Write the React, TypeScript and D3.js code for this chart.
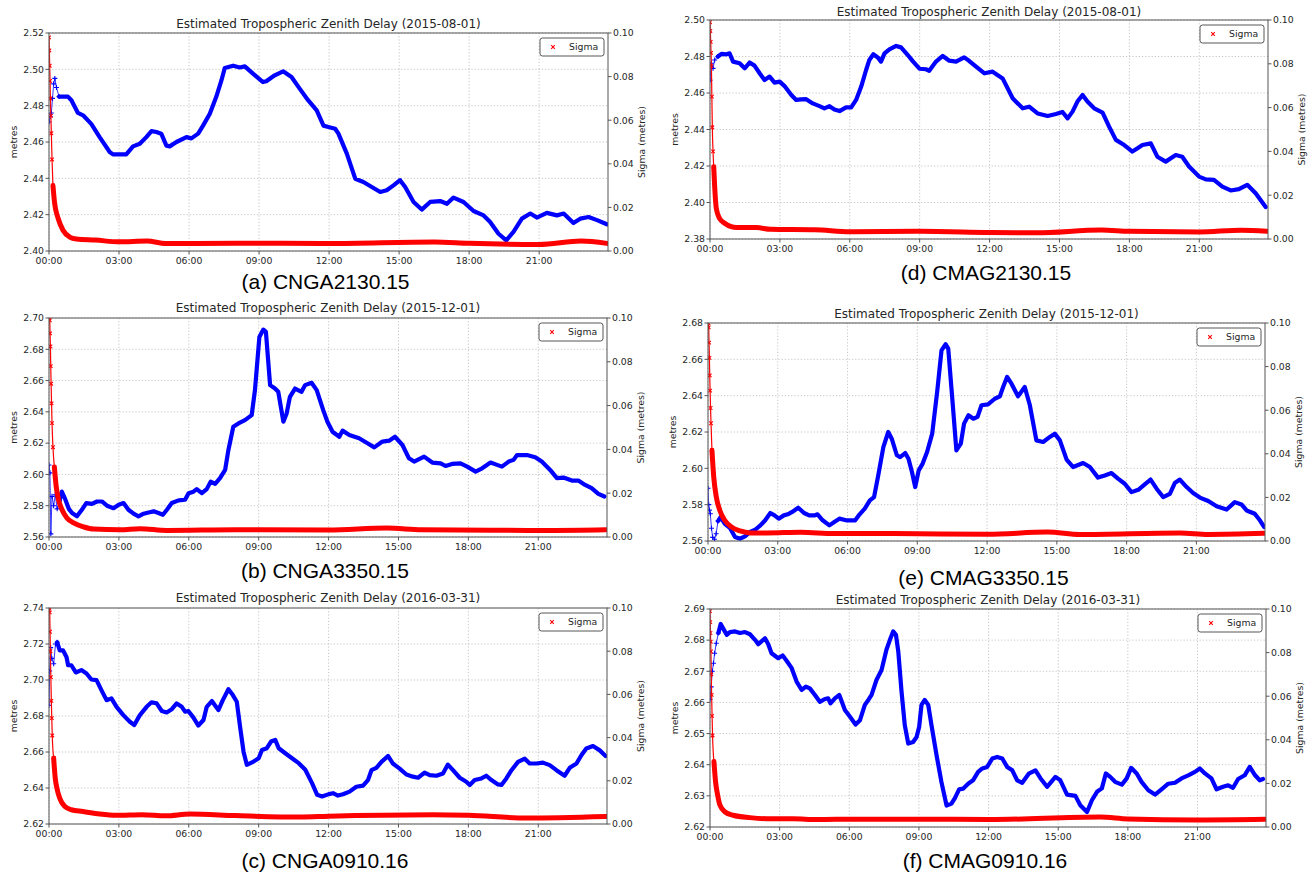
import React from 'react';
import * as d3 from 'd3';

type Pt = [number, number];

// shared axis ticks
const hourTicks = [0, 3, 6, 9, 12, 15, 18, 21];
const hourLabels = ['00:00', '03:00', '06:00', '09:00', '12:00', '15:00', '18:00', '21:00'];
const sigmaTicks = [0, 0.02, 0.04, 0.06, 0.08, 0.1];

// (a) CNGA2130.15
const cnga2130Ztd: Pt[] = [
  [0, 2.471], [0.05, 2.474], [0.1, 2.476], [0.15, 2.484], [0.2, 2.492], [0.25, 2.495], [0.32, 2.49], [0.43, 2.485],
  [0.81, 2.485], [0.96, 2.483], [1.24, 2.476], [1.46, 2.4747], [1.81, 2.47], [2.17, 2.4627], [2.6, 2.4545], [2.74, 2.4532],
  [3.31, 2.4532], [3.6, 2.4576], [3.89, 2.459], [4.17, 2.4627], [4.39, 2.466], [4.6, 2.4655], [4.81, 2.4646], [5.03, 2.458],
  [5.17, 2.4576], [5.46, 2.46], [5.89, 2.4627], [6.1, 2.462], [6.39, 2.4646], [6.6, 2.469], [6.89, 2.4756], [7.17, 2.485],
  [7.39, 2.494], [7.53, 2.5007], [7.89, 2.502], [8.17, 2.501], [8.39, 2.5016], [8.74, 2.4976], [9.17, 2.493], [9.31, 2.4934],
  [9.67, 2.4967], [10.03, 2.4989], [10.39, 2.4958], [10.74, 2.4894], [11.1, 2.483], [11.47, 2.4774], [11.76, 2.469],
  [11.97, 2.4683], [12.26, 2.4673], [12.4, 2.4646], [12.76, 2.4536], [13.12, 2.4398], [13.47, 2.438], [13.83, 2.4352],
  [14.19, 2.4325], [14.47, 2.4334], [14.76, 2.4361], [15.04, 2.439], [15.26, 2.4352], [15.62, 2.427], [15.97, 2.4228],
  [16.33, 2.427], [16.76, 2.4275], [17.05, 2.426], [17.33, 2.4294], [17.76, 2.427], [18.19, 2.422], [18.62, 2.4196],
  [18.9, 2.416], [19.26, 2.4095], [19.59, 2.4059], [19.9, 2.4105], [20.26, 2.4178], [20.62, 2.4206], [20.9, 2.4184],
  [21.33, 2.421], [21.76, 2.4196], [22.05, 2.4206], [22.47, 2.4154], [22.76, 2.4178], [23.12, 2.4187], [23.48, 2.417],
  [23.9, 2.4147],
];
const cnga2130Sigma: Pt[] = [
  [0, 0.098], [0.015, 0.092], [0.03, 0.085], [0.045, 0.078], [0.06, 0.07], [0.08, 0.062], [0.1, 0.054], [0.13, 0.042],
  [0.17, 0.03], [0.24, 0.022], [0.39, 0.015], [0.6, 0.0095],
  [0.89, 0.0064], [1.17, 0.0055], [2, 0.005], [3, 0.0042], [4.2, 0.0046], [5, 0.0034], [8, 0.0036], [12, 0.0034],
  [16.5, 0.0041], [18, 0.0035], [21, 0.003], [22.8, 0.0046], [23.9, 0.0035],
];

// (d) CMAG2130.15
const cmag2130Ztd: Pt[] = [
  [0, 2.467], [0.06, 2.4763], [0.13, 2.4735], [0.2, 2.4781], [0.34, 2.48], [0.49, 2.4814], [0.7, 2.4812], [0.84, 2.4817],
  [0.99, 2.4772], [1.27, 2.4763], [1.49, 2.4735], [1.7, 2.4767], [1.91, 2.475], [2.13, 2.4708], [2.34, 2.4671],
  [2.56, 2.469], [2.77, 2.4657], [2.99, 2.4662], [3.2, 2.4638], [3.49, 2.4589], [3.7, 2.4562], [3.91, 2.4565],
  [4.13, 2.4566], [4.41, 2.4543], [4.7, 2.4528], [4.91, 2.4516], [5.13, 2.4528], [5.34, 2.451], [5.56, 2.4501],
  [5.84, 2.4521], [6.06, 2.4521], [6.27, 2.4562], [6.49, 2.4635], [6.7, 2.4726], [6.84, 2.4781], [7.01, 2.4812],
  [7.2, 2.4795], [7.34, 2.4772], [7.49, 2.4817], [7.7, 2.4839], [7.99, 2.4858], [8.2, 2.485], [8.49, 2.4808],
  [8.7, 2.4775], [8.99, 2.4733], [9.27, 2.473], [9.41, 2.4722], [9.7, 2.4772], [9.99, 2.4803], [10.27, 2.4777],
  [10.56, 2.4772], [10.91, 2.4795], [11.13, 2.4775], [11.42, 2.4745], [11.78, 2.4708], [12.13, 2.4717], [12.56, 2.468],
  [12.99, 2.4571], [13.42, 2.4516], [13.7, 2.4525], [14.06, 2.4488], [14.49, 2.4474], [14.85, 2.4485], [15.13, 2.4496],
  [15.35, 2.4461], [15.56, 2.4498], [15.77, 2.4553], [15.99, 2.4589], [16.2, 2.4553], [16.49, 2.4516], [16.85, 2.4493],
  [17.13, 2.4416], [17.42, 2.4343], [17.78, 2.4315], [18.13, 2.4279], [18.35, 2.4297], [18.56, 2.4315], [18.92, 2.4324],
  [19.2, 2.4251], [19.56, 2.4224], [19.99, 2.426], [20.27, 2.4251], [20.56, 2.4197], [20.99, 2.4142], [21.28, 2.4127],
  [21.63, 2.4124], [21.99, 2.4087], [22.35, 2.4066], [22.7, 2.4073], [23.06, 2.4097], [23.42, 2.4051], [23.85, 2.3975],
];
const cmag2130Sigma: Pt[] = [
  [0, 0.099], [0.015, 0.095], [0.03, 0.09], [0.045, 0.085], [0.06, 0.079], [0.08, 0.065], [0.1, 0.051], [0.13, 0.04],
  [0.16, 0.033], [0.2, 0.024], [0.27, 0.014], [0.41, 0.0094],
  [0.63, 0.0072], [0.91, 0.0056], [1.13, 0.0052], [2, 0.0052], [2.6, 0.0044], [4.5, 0.0042], [6, 0.0033], [9, 0.0035],
  [12, 0.003], [14, 0.0028], [16.8, 0.0041], [18, 0.0035], [21, 0.0032], [22.8, 0.004], [23.9, 0.0035],
];

// (b) CNGA3350.15
const cnga3350Ztd: Pt[] = [
  [0, 2.606], [0.04, 2.601], [0.08, 2.562], [0.13, 2.586], [0.2, 2.58], [0.27, 2.587], [0.35, 2.578], [0.45, 2.583],
  [0.55, 2.589], [0.7, 2.584], [0.85, 2.578], [0.99, 2.5753], [1.2, 2.5732], [1.41, 2.5774], [1.6, 2.5817],
  [1.84, 2.5812], [2.06, 2.5827], [2.27, 2.5827], [2.49, 2.58], [2.77, 2.5784], [2.99, 2.5806], [3.2, 2.5817],
  [3.41, 2.5774], [3.63, 2.5749], [3.84, 2.5732], [4.06, 2.5749], [4.27, 2.5757], [4.49, 2.5764], [4.7, 2.5753],
  [4.89, 2.5742], [5.06, 2.5774], [5.27, 2.5817], [5.56, 2.5834], [5.84, 2.5838], [5.99, 2.588], [6.2, 2.589],
  [6.34, 2.5906], [6.56, 2.588], [6.77, 2.5906], [6.94, 2.5954], [7.13, 2.594], [7.34, 2.5976], [7.56, 2.6029],
  [7.7, 2.6156], [7.91, 2.6305], [8.13, 2.6326], [8.41, 2.6347], [8.7, 2.6379], [8.84, 2.6539], [9.03, 2.6879],
  [9.2, 2.6926], [9.31, 2.6911], [9.49, 2.6571], [9.7, 2.6549], [9.84, 2.6528], [10.06, 2.6337], [10.2, 2.639],
  [10.34, 2.6496], [10.56, 2.6549], [10.84, 2.6528], [10.99, 2.6571], [11.27, 2.6586], [11.49, 2.6539], [11.77, 2.6411],
  [11.95, 2.6337], [12.17, 2.6273], [12.46, 2.6241], [12.6, 2.628], [12.89, 2.6252], [13.31, 2.6231], [13.67, 2.6199],
  [13.96, 2.6173], [14.31, 2.621], [14.6, 2.6216], [14.85, 2.6241], [15.17, 2.6188], [15.45, 2.6103], [15.67, 2.6082],
  [16.1, 2.6114], [16.45, 2.6076], [16.81, 2.6071], [17.02, 2.6054], [17.3, 2.6067], [17.66, 2.6071], [17.95, 2.605],
  [18.31, 2.6018], [18.59, 2.6039], [18.95, 2.6076], [19.23, 2.6061], [19.44, 2.605], [19.73, 2.6082], [19.94, 2.6093],
  [20.09, 2.6124], [20.51, 2.6124], [20.87, 2.611], [21.15, 2.6082], [21.51, 2.6029], [21.8, 2.5976], [22.08, 2.598],
  [22.44, 2.5961], [22.72, 2.5961], [23.01, 2.5933], [23.29, 2.5912], [23.58, 2.5876], [23.84, 2.5859],
];
const cnga3350Sigma: Pt[] = [
  [0, 0.1], [0.015, 0.1], [0.03, 0.099], [0.045, 0.093], [0.06, 0.087], [0.075, 0.078], [0.09, 0.07], [0.11, 0.061],
  [0.13, 0.052], [0.17, 0.041], [0.23, 0.032], [0.31, 0.023],
  [0.41, 0.017], [0.56, 0.0124], [0.77, 0.0087], [1.06, 0.0064], [1.49, 0.0046], [1.91, 0.0036], [3.06, 0.0033],
  [3.9, 0.0038], [5.06, 0.003], [8, 0.0033], [12, 0.0032], [14.5, 0.0041], [16, 0.0033], [19, 0.0031], [21.5, 0.003],
  [23.9, 0.0033],
];

// (e) CMAG3350.15
const cmag3350Ztd: Pt[] = [
  [0, 2.589], [0.03, 2.58], [0.06, 2.577], [0.1, 2.575], [0.15, 2.567], [0.2, 2.562], [0.28, 2.561], [0.35, 2.564],
  [0.43, 2.571], [0.54, 2.5732], [0.72, 2.5695], [0.94, 2.5673], [1.16, 2.5622], [1.38, 2.5613], [1.59, 2.5626],
  [1.81, 2.565], [2.03, 2.5662], [2.25, 2.5686], [2.46, 2.5714], [2.68, 2.5754], [2.86, 2.5741], [3.04, 2.5723],
  [3.26, 2.5741], [3.43, 2.5747], [3.62, 2.576], [3.88, 2.5783], [4.13, 2.5754], [4.35, 2.5741], [4.57, 2.5741],
  [4.71, 2.5747], [4.93, 2.5714], [5.22, 2.5686], [5.43, 2.5705], [5.65, 2.5723], [5.94, 2.5714], [6.16, 2.5714],
  [6.33, 2.5714], [6.52, 2.5747], [6.74, 2.5778], [6.96, 2.5824], [7.14, 2.5842], [7.32, 2.5961], [7.54, 2.6117],
  [7.75, 2.62], [7.9, 2.6163], [8.12, 2.6072], [8.26, 2.6062], [8.48, 2.6084], [8.62, 2.6053], [8.77, 2.598],
  [8.91, 2.5897], [9.06, 2.5989], [9.23, 2.6026], [9.42, 2.609], [9.64, 2.6191], [9.86, 2.6429], [10.04, 2.6649],
  [10.22, 2.6683], [10.33, 2.6659], [10.51, 2.6374], [10.68, 2.6099], [10.87, 2.6136], [11.01, 2.6246], [11.2, 2.6292],
  [11.41, 2.6273], [11.59, 2.6283], [11.76, 2.6347], [12.04, 2.6352], [12.33, 2.6383], [12.55, 2.6396], [12.69, 2.6448],
  [12.86, 2.6503], [13.05, 2.6466], [13.33, 2.6396], [13.62, 2.6448], [13.84, 2.6347], [14.12, 2.6154], [14.41, 2.6145],
  [14.7, 2.6173], [14.91, 2.6191], [15.13, 2.6154], [15.42, 2.6048], [15.7, 2.6007], [16.13, 2.6029], [16.42, 2.6007],
  [16.77, 2.5949], [17.06, 2.5961], [17.35, 2.5974], [17.63, 2.5943], [17.92, 2.5915], [18.21, 2.5869], [18.5, 2.5882],
  [18.78, 2.5912], [19.03, 2.5938], [19.29, 2.5888], [19.57, 2.5842], [19.86, 2.586], [20.07, 2.5919], [20.29, 2.5938],
  [20.58, 2.5897], [20.86, 2.5864], [21.15, 2.5839], [21.51, 2.582], [21.87, 2.5791], [22.3, 2.5773], [22.65, 2.5814],
  [22.94, 2.5801], [23.16, 2.5768], [23.51, 2.575], [23.73, 2.5714], [23.91, 2.5677],
];
const cmag3350Sigma: Pt[] = [
  [0, 0.1], [0.015, 0.1], [0.03, 0.098], [0.045, 0.091], [0.06, 0.084], [0.075, 0.076], [0.09, 0.069], [0.11, 0.061],
  [0.13, 0.054], [0.17, 0.0416], [0.25, 0.029], [0.36, 0.02],
  [0.51, 0.014], [0.72, 0.0095], [1.01, 0.0064], [1.38, 0.0046], [1.81, 0.0037], [2.54, 0.0037], [3.99, 0.004],
  [5.43, 0.0034], [8, 0.0034], [12, 0.0031], [14.6, 0.0041], [16, 0.003], [20.3, 0.0037], [21.5, 0.003], [23.9, 0.0035],
];

// (c) CNGA0910.16
const cnga0910Ztd: Pt[] = [
  [0, 2.686], [0.03, 2.705], [0.07, 2.718], [0.12, 2.712], [0.2, 2.709], [0.28, 2.72], [0.35, 2.721], [0.46, 2.7165],
  [0.6, 2.7165], [0.75, 2.7128], [0.82, 2.7082], [0.96, 2.7082], [1.15, 2.7042], [1.39, 2.7055], [1.61, 2.7036],
  [1.82, 2.7003], [2.04, 2.6999], [2.25, 2.6944], [2.47, 2.6888], [2.68, 2.6898], [2.9, 2.6851], [3.19, 2.6805],
  [3.47, 2.6768], [3.66, 2.675], [3.9, 2.6805], [4.19, 2.6851], [4.4, 2.6876], [4.62, 2.687], [4.84, 2.6828],
  [5.05, 2.682], [5.27, 2.6838], [5.48, 2.687], [5.7, 2.6851], [5.84, 2.6824], [5.98, 2.6828], [6.2, 2.6791],
  [6.41, 2.6747], [6.63, 2.6778], [6.77, 2.6851], [6.99, 2.6883], [7.27, 2.6833], [7.46, 2.6888], [7.7, 2.6949],
  [7.89, 2.6916], [8.06, 2.6879], [8.21, 2.6732], [8.35, 2.6602], [8.49, 2.6529], [8.78, 2.6547], [9.0, 2.6565],
  [9.14, 2.6611], [9.35, 2.6621], [9.53, 2.6658], [9.71, 2.6667], [9.86, 2.6621], [10.14, 2.6593], [10.43, 2.6565],
  [10.72, 2.6538], [11.0, 2.6501], [11.29, 2.6427], [11.51, 2.6362], [11.72, 2.6353], [12.01, 2.6366], [12.19, 2.6371],
  [12.4, 2.6358], [12.62, 2.6365], [12.9, 2.638], [13.19, 2.6407], [13.48, 2.6413], [13.69, 2.6444], [13.84, 2.6499],
  [14.05, 2.6512], [14.27, 2.6545], [14.55, 2.6578], [14.76, 2.6536], [15.05, 2.6508], [15.34, 2.6475], [15.62, 2.6463],
  [15.84, 2.6457], [16.12, 2.6486], [16.34, 2.6472], [16.63, 2.6468], [16.91, 2.6481], [17.12, 2.653], [17.34, 2.6499],
  [17.63, 2.6457], [17.91, 2.6435], [18.06, 2.6417], [18.27, 2.6444], [18.56, 2.6453], [18.77, 2.6468], [18.99, 2.6444],
  [19.27, 2.642], [19.42, 2.6417], [19.63, 2.6453], [19.85, 2.6499], [20.13, 2.6545], [20.42, 2.6563], [20.63, 2.6536],
  [20.92, 2.6536], [21.2, 2.6541], [21.49, 2.6527], [21.78, 2.6499], [22.13, 2.6468], [22.35, 2.6512], [22.64, 2.6536],
  [22.85, 2.6582], [23.06, 2.6619], [23.35, 2.6633], [23.64, 2.6609], [23.89, 2.6578],
];
const cnga0910Sigma: Pt[] = [
  [0, 0.1], [0.015, 0.099], [0.03, 0.098], [0.045, 0.089], [0.06, 0.08], [0.08, 0.068], [0.1, 0.057], [0.12, 0.049],
  [0.14, 0.041], [0.2, 0.0305], [0.27, 0.021], [0.34, 0.0166],
  [0.46, 0.012], [0.67, 0.0082], [0.96, 0.0066], [1.46, 0.0058], [2.18, 0.0046], [2.9, 0.004], [4, 0.0043], [5, 0.0038],
  [6.05, 0.0046], [8, 0.0039], [10.8, 0.0032], [12, 0.0036], [16.5, 0.0043], [18, 0.004], [20.5, 0.0028], [23.9, 0.0035],
];

// (f) CMAG0910.16
const cmag0910Ztd: Pt[] = [
  [0, 2.661], [0.05, 2.665], [0.1, 2.67], [0.15, 2.6726], [0.2, 2.6758], [0.27, 2.679], [0.36, 2.6823], [0.46, 2.6852],
  [0.6, 2.6833], [0.72, 2.6817], [0.86, 2.6826], [1.08, 2.6828], [1.29, 2.6823], [1.51, 2.6826], [1.72, 2.6819],
  [1.94, 2.6801], [2.08, 2.6787], [2.37, 2.6806], [2.51, 2.6787], [2.65, 2.6758], [2.94, 2.6742], [3.13, 2.6751],
  [3.3, 2.6734], [3.52, 2.671], [3.73, 2.6667], [3.95, 2.664], [4.13, 2.6651], [4.3, 2.6645], [4.52, 2.6624],
  [4.73, 2.6602], [4.95, 2.6611], [5.09, 2.6613], [5.19, 2.6597], [5.38, 2.6613], [5.57, 2.6624], [5.81, 2.6576],
  [6.03, 2.6554], [6.27, 2.6529], [6.46, 2.6543], [6.67, 2.6592], [6.82, 2.6608], [6.96, 2.6624], [7.17, 2.6672],
  [7.39, 2.6704], [7.6, 2.6769], [7.75, 2.6801], [7.89, 2.6828], [8.01, 2.6817], [8.11, 2.6764], [8.25, 2.6635],
  [8.39, 2.6527], [8.54, 2.6468], [8.75, 2.6473], [8.9, 2.6489], [9.01, 2.6522], [9.11, 2.6592], [9.25, 2.6608],
  [9.4, 2.6592], [9.54, 2.6527], [9.76, 2.643], [9.97, 2.6344], [10.19, 2.6269], [10.4, 2.6275], [10.55, 2.6293],
  [10.73, 2.6321], [10.9, 2.6323], [11.12, 2.6339], [11.33, 2.635], [11.55, 2.6377], [11.73, 2.6388], [11.94, 2.6393],
  [12.16, 2.642], [12.37, 2.6425], [12.59, 2.642], [12.8, 2.6393], [13.02, 2.6382], [13.23, 2.635], [13.45, 2.6342],
  [13.73, 2.6371], [14.02, 2.6382], [14.24, 2.6356], [14.52, 2.6329], [14.88, 2.6361], [15.09, 2.635], [15.38, 2.6304],
  [15.74, 2.63], [15.95, 2.627], [16.24, 2.6248], [16.45, 2.6286], [16.67, 2.6313], [16.88, 2.6324], [17.05, 2.6372],
  [17.24, 2.6361], [17.45, 2.6345], [17.74, 2.6336], [17.95, 2.6356], [18.14, 2.639], [18.38, 2.6372], [18.59, 2.6345],
  [18.88, 2.6318], [19.17, 2.6304], [19.45, 2.6321], [19.74, 2.6339], [20.03, 2.6342], [20.31, 2.6356], [20.6, 2.6366],
  [20.89, 2.6377], [21.1, 2.6388], [21.32, 2.6372], [21.6, 2.6356], [21.82, 2.6321], [22.1, 2.6329], [22.32, 2.6334],
  [22.53, 2.6326], [22.75, 2.6354], [23.03, 2.6366], [23.25, 2.6393], [23.48, 2.6366], [23.68, 2.635], [23.82, 2.6354],
];
const cmag0910Sigma: Pt[] = [
  [0, 0.099], [0.01, 0.094], [0.02, 0.089], [0.03, 0.085], [0.04, 0.0805], [0.055, 0.07], [0.07, 0.0606], [0.09, 0.051],
  [0.11, 0.042], [0.17, 0.03], [0.24, 0.0207], [0.33, 0.0146], [0.43, 0.01],
  [0.65, 0.0069], [1.0, 0.0054], [1.72, 0.0043], [2.44, 0.0038], [3.6, 0.0038], [4.59, 0.0034], [6.3, 0.0036],
  [9, 0.0036], [12, 0.0034], [16.8, 0.0046], [18, 0.0037], [21, 0.0032], [23.9, 0.0035],
];

const panels = [
  { id: 'a', caption: '(a) CNGA2130.15', date: '2015-08-01', ztd: cnga2130Ztd, sigma: cnga2130Sigma,
    yDomain: [2.40, 2.52], yStep: 0.02, left: 49, right: 608, top: 33, bottom: 251, titleY: 28, captionY: 289 },
  { id: 'd', caption: '(d) CMAG2130.15', date: '2015-08-01', ztd: cmag2130Ztd, sigma: cmag2130Sigma,
    yDomain: [2.38, 2.50], yStep: 0.02, left: 710, right: 1268, top: 20, bottom: 239, titleY: 16, captionY: 280 },
  { id: 'b', caption: '(b) CNGA3350.15', date: '2015-12-01', ztd: cnga3350Ztd, sigma: cnga3350Sigma,
    yDomain: [2.56, 2.70], yStep: 0.02, left: 49, right: 607, top: 318, bottom: 537, titleY: 312, captionY: 578 },
  { id: 'e', caption: '(e) CMAG3350.15', date: '2015-12-01', ztd: cmag3350Ztd, sigma: cmag3350Sigma,
    yDomain: [2.56, 2.68], yStep: 0.02, left: 708, right: 1265, top: 323, bottom: 541, titleY: 318, captionY: 585 },
  { id: 'c', caption: '(c) CNGA0910.16', date: '2016-03-31', ztd: cnga0910Ztd, sigma: cnga0910Sigma,
    yDomain: [2.62, 2.74], yStep: 0.02, left: 49, right: 607, top: 608, bottom: 824, titleY: 602, captionY: 868 },
  { id: 'f', caption: '(f) CMAG0910.16', date: '2016-03-31', ztd: cmag0910Ztd, sigma: cmag0910Sigma,
    yDomain: [2.62, 2.69], yStep: 0.01, left: 710, right: 1266, top: 609, bottom: 827, titleY: 604, captionY: 868 },
];

const font = 'DejaVu Sans, sans-serif';
const axisColor = '#555';
const textColor = '#262626';
const fmt = d3.format('.2f');

function plus(cx: number, cy: number, r = 2.5) {
  return `M${cx - r},${cy}h${2 * r}M${cx},${cy - r}v${2 * r}`;
}
function cross(cx: number, cy: number, r = 1.8) {
  return `M${cx - r},${cy - r}l${2 * r},${2 * r}M${cx - r},${cy + r}l${2 * r},${-2 * r}`;
}

function Panel({ p }: { p: any }) {
  const x = d3.scaleLinear([0, 23.95], [p.left, p.right]);
  const y = d3.scaleLinear(p.yDomain, [p.bottom, p.top]);
  const ys = d3.scaleLinear([0, 0.1], [p.bottom, p.top]);
  const yTicks = d3.range(p.yDomain[0], p.yDomain[1] + p.yStep / 2, p.yStep);

  const zLine = d3.line<Pt>(d => x(d[0]), d => y(d[1]));
  const sLine = d3.line<Pt>(d => x(d[0]), d => ys(d[1])).curve(d3.curveMonotoneX);

  // sparse convergence part vs. dense part of each series
  const zEarly = p.ztd.filter((d: Pt) => d[0] <= 0.45);
  const zMain = p.ztd.filter((d: Pt) => d[0] >= zEarly[zEarly.length - 1][0]);
  const sEarly = p.sigma.filter((d: Pt) => d[1] >= 0.03);
  const sMain = p.sigma.filter((d: Pt) => d[1] <= sEarly[sEarly.length - 1][1]);

  const midY = (p.top + p.bottom) / 2;
  const midX = (p.left + p.right) / 2;
  const clip = `clip-${p.id}`;
  const lgR = p.right - 4;
  const lgT = p.top + 5;

  return (
    <g>
      <defs>
        <clipPath id={clip}>
          <rect x={p.left} y={p.top} width={p.right - p.left} height={p.bottom - p.top} />
        </clipPath>
      </defs>
      {/* grid */}
      <g stroke="#b8b8b8" strokeWidth={0.8} strokeDasharray="1.2,2">
        {hourTicks.map(t => (
          <line key={'gx' + t} x1={x(t)} x2={x(t)} y1={p.top} y2={p.bottom} />
        ))}
        {yTicks.map((t, i) => (
          <line key={'gy' + i} x1={p.left} x2={p.right} y1={y(t)} y2={y(t)} />
        ))}
      </g>

      <g clipPath={`url(#${clip})`}>
        {/* ZTD */}
        <path d={zLine(zEarly) || ''} fill="none" stroke="#0000ff" strokeWidth={0.8} />
        <g stroke="#0000ff" strokeWidth={1.1}>
          {zEarly.map((d: Pt, i: number) => (
            <path key={i} d={plus(x(d[0]), y(d[1]))} />
          ))}
        </g>
        <path d={zLine(zMain) || ''} fill="none" stroke="#0000ff" strokeWidth={4.2}
          strokeLinejoin="round" strokeLinecap="round" />
        {/* Sigma */}
        <path d={sLine(sEarly) || ''} fill="none" stroke="#ff0000" strokeWidth={1.2} />
        <g stroke="#ff0000" strokeWidth={1.1}>
          {sEarly.map((d: Pt, i: number) => (
            <path key={i} d={cross(x(d[0]), ys(d[1]))} />
          ))}
        </g>
        <path d={sLine(sMain) || ''} fill="none" stroke="#ff0000" strokeWidth={5}
          strokeLinejoin="round" strokeLinecap="round" />
      </g>

      {/* frame */}
      <rect x={p.left} y={p.top} width={p.right - p.left} height={p.bottom - p.top}
        fill="none" stroke={axisColor} strokeWidth={1} />

      {/* x axis */}
      <g fontFamily={font} fontSize={9.3} fill={textColor} textAnchor="middle">
        {hourTicks.map((t, i) => (
          <g key={'xt' + t}>
            <line x1={x(t)} x2={x(t)} y1={p.bottom} y2={p.bottom + 3.5} stroke={axisColor} />
            <text x={x(t)} y={p.bottom + 13}>{hourLabels[i]}</text>
          </g>
        ))}
      </g>
      {/* left axis */}
      <g fontFamily={font} fontSize={9.3} fill={textColor} textAnchor="end">
        {yTicks.map((t, i) => (
          <g key={'yt' + i}>
            <line x1={p.left - 3.5} x2={p.left} y1={y(t)} y2={y(t)} stroke={axisColor} />
            <text x={p.left - 5} y={y(t) + 3.3}>{fmt(t)}</text>
          </g>
        ))}
      </g>
      {/* right axis */}
      <g fontFamily={font} fontSize={9.3} fill={textColor} textAnchor="start">
        {sigmaTicks.map((t, i) => (
          <g key={'st' + i}>
            <line x1={p.right} x2={p.right + 3.5} y1={ys(t)} y2={ys(t)} stroke={axisColor} />
            <text x={p.right + 5} y={ys(t) + 3.3}>{fmt(t)}</text>
          </g>
        ))}
      </g>
      <text transform={`translate(${p.left - 35},${midY}) rotate(-90)`} fontFamily={font} fontSize={9.3}
        fill={textColor} textAnchor="middle" dy="0.35em">metres</text>
      <text transform={`translate(${p.right + 34},${midY}) rotate(-90)`} fontFamily={font} fontSize={9.3}
        fill={textColor} textAnchor="middle" dy="0.35em">Sigma (metres)</text>

      {/* title */}
      <text x={midX} y={p.titleY} fontFamily={font} fontSize={12} fill={textColor} textAnchor="middle">
        {`Estimated Tropospheric Zenith Delay (${p.date})`}
      </text>

      {/* legend */}
      <g>
        <rect x={lgR - 64} y={lgT} width={64} height={18} rx={2.5} fill="#fff" stroke="#444" strokeWidth={0.9} />
        <path d={cross(lgR - 51, lgT + 9, 1.8)} stroke="#ff0000" strokeWidth={1.1} />
        <text x={lgR - 35} y={lgT + 12.3} fontFamily={font} fontSize={9.3} fill={textColor}>Sigma</text>
      </g>

      {/* caption */}
      <text x={midX - 3} y={p.captionY} fontFamily="Liberation Sans, Arial, sans-serif" fontSize={21}
        fill="#000" textAnchor="middle">{p.caption}</text>
    </g>
  );
}

export default function App() {
  return (
    <div style={{ position: 'absolute', left: 0, top: 0 }}>
      <svg width={1315} height={872} style={{ display: 'block', background: '#fff' }}>
        {panels.map(p => (
          <Panel key={p.id} p={p} />
        ))}
      </svg>
    </div>
  );
}
